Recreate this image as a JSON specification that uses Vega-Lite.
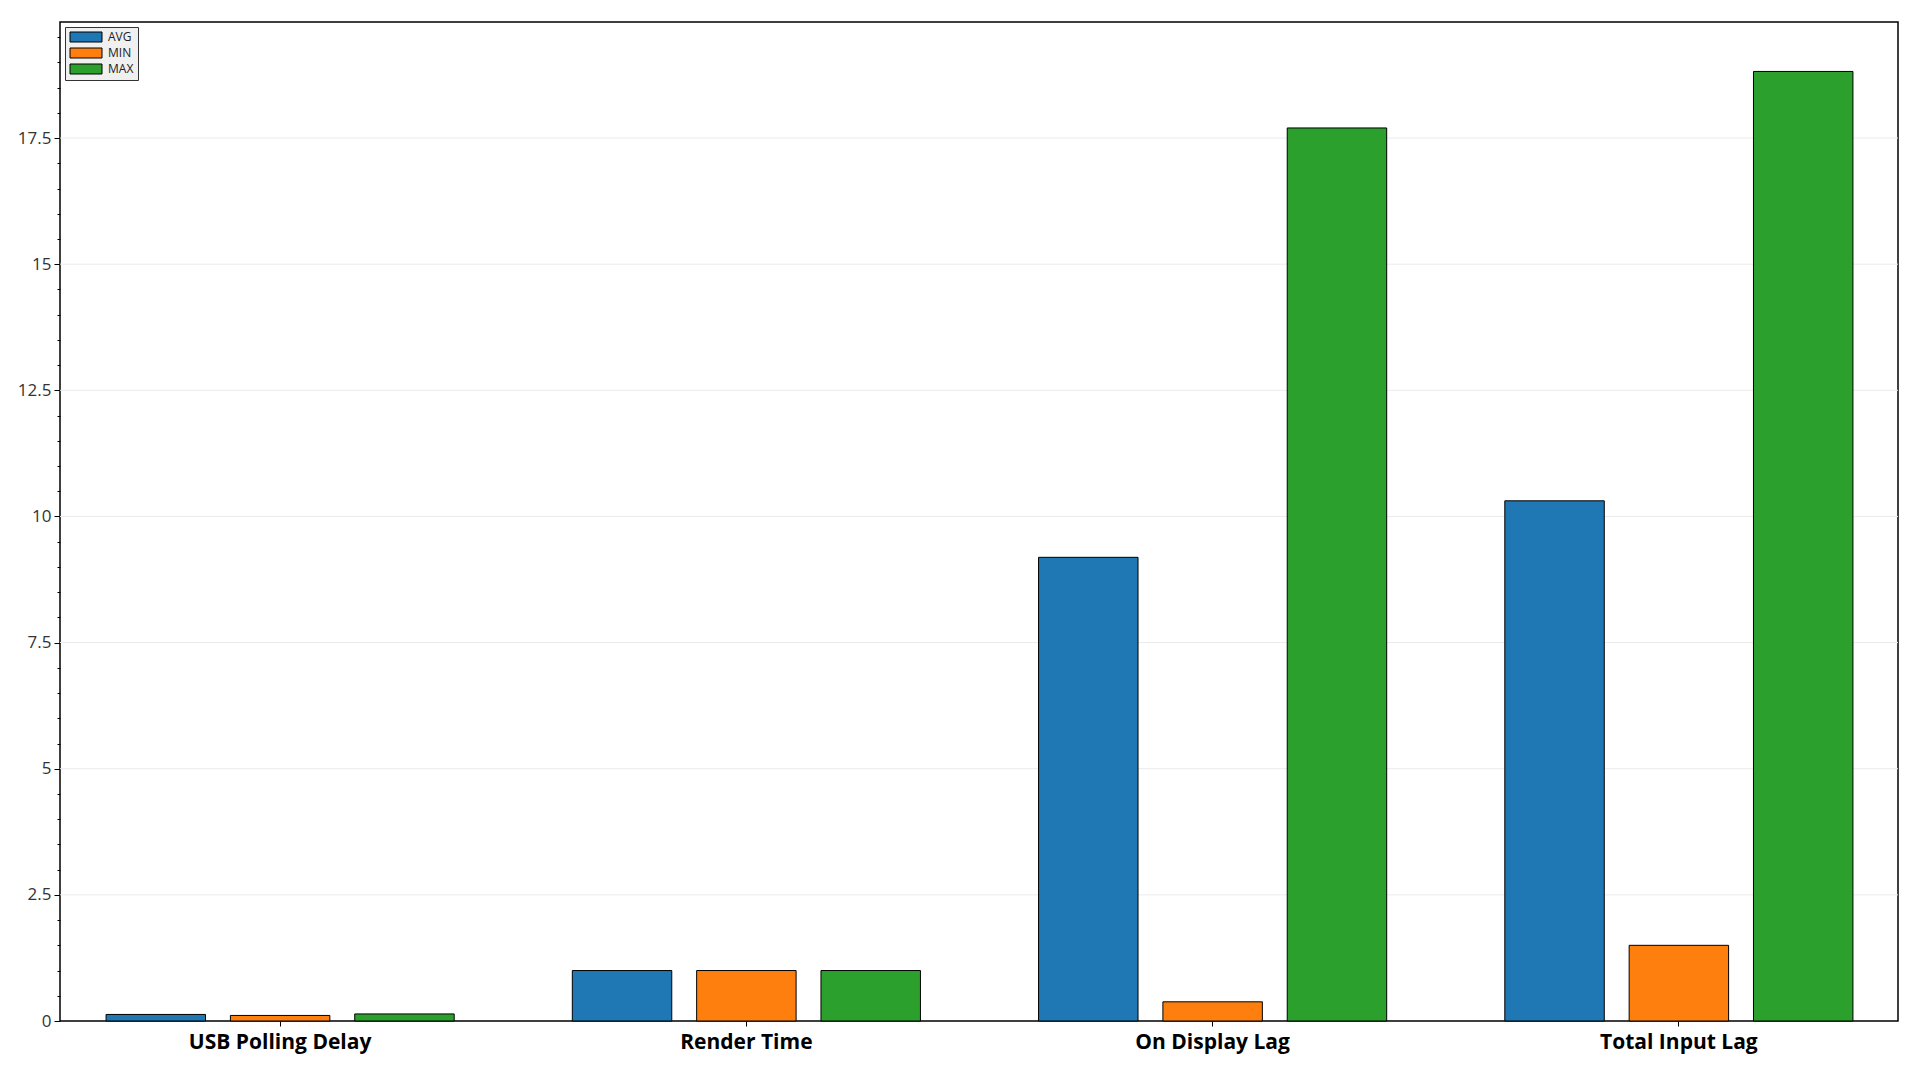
{
  "$schema": "https://vega.github.io/schema/vega-lite/v6.json",
  "width": 1838,
  "height": 999,
  "autosize": {"type": "none"},
  "padding": {"left": 60, "top": 22, "right": 22, "bottom": 59},
  "background": "white",
  "config": {"view": {"stroke": "black", "strokeWidth": 1.5}, "font": "Open Sans"},
  "layer": [
    {
      "data": {
        "values": [
          {"value": 2.5}, {"value": 5}, {"value": 7.5}, {"value": 10},
          {"value": 12.5}, {"value": 15}, {"value": 17.5}
        ]
      },
      "mark": {"type": "rule", "color": "#ebebeb", "strokeWidth": 1},
      "encoding": {
        "y": {
          "field": "value",
          "type": "quantitative",
          "scale": {"domain": [0, 19.8], "nice": false},
          "axis": {
            "title": null,
            "values": [0, 0.5, 1, 1.5, 2, 2.5, 3, 3.5, 4, 4.5, 5, 5.5, 6, 6.5, 7, 7.5, 8, 8.5, 9, 9.5, 10, 10.5, 11, 11.5, 12, 12.5, 13, 13.5, 14, 14.5, 15, 15.5, 16, 16.5, 17, 17.5, 18, 18.5, 19, 19.5],
            "labelExpr": "datum.value % 2.5 == 0 ? format(datum.value, '~g') : ''",
            "labelOverlap": false,
            "labelFlush": false,
            "labelFont": "Open Sans",
            "labelFontSize": 17,
            "labelColor": "#333333",
            "labelPadding": 3,
            "tickColor": "black",
            "tickSize": {"condition": {"test": "datum.value % 2.5 == 0", "value": 6}, "value": 3},
            "grid": false,
            "domain": false
          }
        }
      }
    },
    {
      "data": {
        "values": [
          {"category": "USB Polling Delay", "stat": "AVG", "value": 0.13},
          {"category": "USB Polling Delay", "stat": "MIN", "value": 0.11},
          {"category": "USB Polling Delay", "stat": "MAX", "value": 0.14},
          {"category": "Render Time", "stat": "AVG", "value": 1.0},
          {"category": "Render Time", "stat": "MIN", "value": 1.0},
          {"category": "Render Time", "stat": "MAX", "value": 1.0},
          {"category": "On Display Lag", "stat": "AVG", "value": 9.19},
          {"category": "On Display Lag", "stat": "MIN", "value": 0.38},
          {"category": "On Display Lag", "stat": "MAX", "value": 17.7},
          {"category": "Total Input Lag", "stat": "AVG", "value": 10.31},
          {"category": "Total Input Lag", "stat": "MIN", "value": 1.5},
          {"category": "Total Input Lag", "stat": "MAX", "value": 18.82}
        ]
      },
      "mark": {"type": "bar", "stroke": "black", "strokeWidth": 1},
      "encoding": {
        "x": {
          "field": "category",
          "type": "nominal",
          "sort": ["USB Polling Delay", "Render Time", "On Display Lag", "Total Input Lag"],
          "scale": {"paddingInner": 0, "paddingOuter": 0, "range": [-13, 1852]},
          "axis": {
            "title": null,
            "labelAngle": 0,
            "labelFont": "Open Sans",
            "labelFontWeight": "bold",
            "labelFontSize": 21,
            "labelColor": "black",
            "labelPadding": 5,
            "labelLimit": 500,
            "tickSize": 5,
            "tickColor": "black",
            "domain": false,
            "grid": false
          }
        },
        "xOffset": {
          "field": "stat",
          "sort": ["AVG", "MIN", "MAX"],
          "scale": {"paddingInner": 0.2, "paddingOuter": 0.475}
        },
        "y": {
          "field": "value",
          "type": "quantitative",
          "scale": {"domain": [0, 19.8], "nice": false},
          "axis": {
            "title": null,
            "values": [0, 0.5, 1, 1.5, 2, 2.5, 3, 3.5, 4, 4.5, 5, 5.5, 6, 6.5, 7, 7.5, 8, 8.5, 9, 9.5, 10, 10.5, 11, 11.5, 12, 12.5, 13, 13.5, 14, 14.5, 15, 15.5, 16, 16.5, 17, 17.5, 18, 18.5, 19, 19.5],
            "labelExpr": "datum.value % 2.5 == 0 ? format(datum.value, '~g') : ''",
            "labelOverlap": false,
            "labelFlush": false,
            "labelFont": "Open Sans",
            "labelFontSize": 17,
            "labelColor": "#333333",
            "labelPadding": 3,
            "tickColor": "black",
            "tickSize": {"condition": {"test": "datum.value % 2.5 == 0", "value": 6}, "value": 3},
            "grid": false,
            "domain": false
          }
        },
        "color": {
          "field": "stat",
          "type": "nominal",
          "sort": ["AVG", "MIN", "MAX"],
          "scale": {"domain": ["AVG", "MIN", "MAX"], "range": ["#1f77b4", "#ff7f0e", "#2ca02c"]},
          "legend": {
            "title": null,
            "orient": "none",
            "legendX": 5,
            "legendY": 5,
            "fillColor": "#f0f0f0",
            "strokeColor": "#333333",
            "padding": 4,
            "symbolType": "M-3.2,-1H3.2V1H-3.2Z",
            "symbolSize": 100,
            "symbolOffset": 11,
            "symbolStrokeColor": "black",
            "symbolStrokeWidth": 1,
            "symbolOpacity": 1,
            "labelFont": "Open Sans",
            "labelFontSize": 12,
            "labelColor": "#222222",
            "labelOffset": 16,
            "rowPadding": 2
          }
        }
      }
    }
  ]
}
